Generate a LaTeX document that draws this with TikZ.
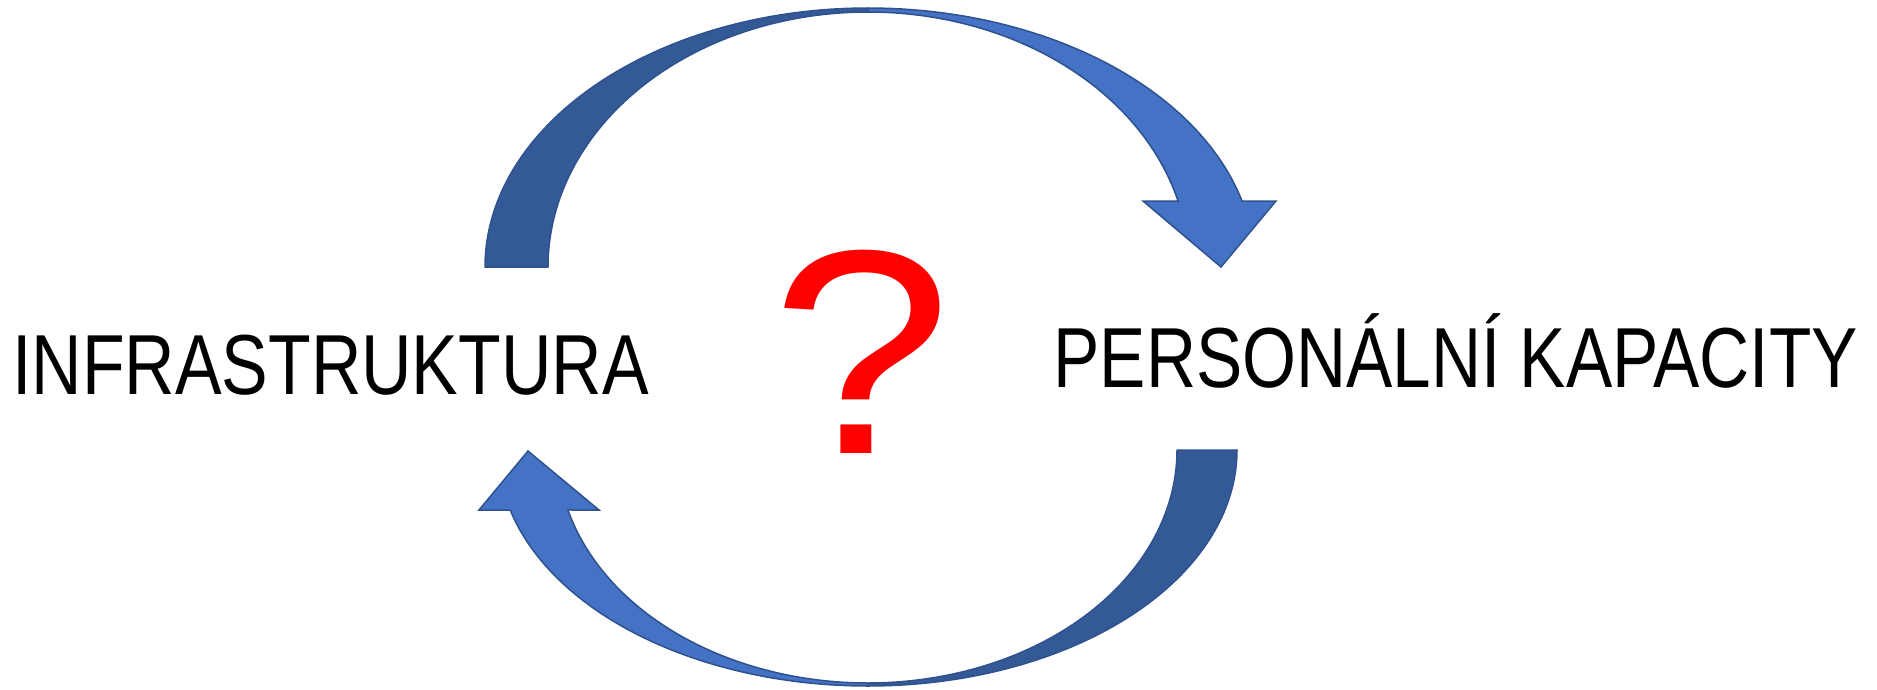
\documentclass[tikz,border=0pt]{standalone}
\usepackage{fontspec}
\setmainfont{Liberation Sans}
\usepackage{graphicx}
\definecolor{bandDark}{HTML}{335A97}
\definecolor{bandLight}{HTML}{4472C4}
\definecolor{bandEdge}{HTML}{2F528F}
\tikzset{
  darkband/.style={fill=bandDark, draw=bandEdge, line width=1.5pt, line join=round},
  lightband/.style={fill=bandLight, draw=bandEdge, line width=1.5pt, line join=miter},
  biglabel/.style={inner sep=0pt, font=\fontsize{85.2}{90}\selectfont},
}
\begin{document}
\begin{tikzpicture}[x=1pt,y=-1pt]
\useasboundingbox (0,0) rectangle (1877,689);
% top arrow: dark back band
\path[darkband] plot[domain=180:270,samples=90] ({868+383*cos(\x)},{267+259*sin(\x)})
  -- plot[domain=270:180,samples=90] ({868+320*cos(\x)},{267+255*sin(\x)}) -- cycle;
% top arrow: light front band with head
\path[lightband] plot[domain=270:345.24,samples=90] ({868+386.8*cos(\x)},{267+259*sin(\x)})
  -- (1276,201) -- (1221,267) -- (1143,201)
  -- plot[domain=345.0:270,samples=90] ({868+321*cos(\x)},{267+255*sin(\x)}) -- cycle;
% bottom arrow: dark back band
\path[darkband] plot[domain=0:90,samples=90] ({868+369*cos(\x)},{450+236*sin(\x)})
  -- plot[domain=90:0,samples=90] ({868+309*cos(\x)},{450+233*sin(\x)}) -- cycle;
% bottom arrow: light front band with head
\path[lightband] plot[domain=90:165.27,samples=90] ({868+370*cos(\x)},{450+236*sin(\x)})
  -- (479,510) -- (528,451) -- (599,510)
  -- plot[domain=165.08:90,samples=90] ({868+310.5*cos(\x)},{450+233*sin(\x)}) -- cycle;
% labels
\node[biglabel, anchor=base west] (infra) at (12,394) {\scalebox{0.82}[1]{INFRASTRUKTURA}};
\node[biglabel, anchor=base east] (pers) at (1858,387) {\scalebox{0.814}[1]{PERSONÁLNÍ KAPACITY}};
\node[inner sep=0pt, text=red] (q) at (861.5,351.5) {\resizebox{180pt}{203pt}{?}};
\end{tikzpicture}
\end{document}
